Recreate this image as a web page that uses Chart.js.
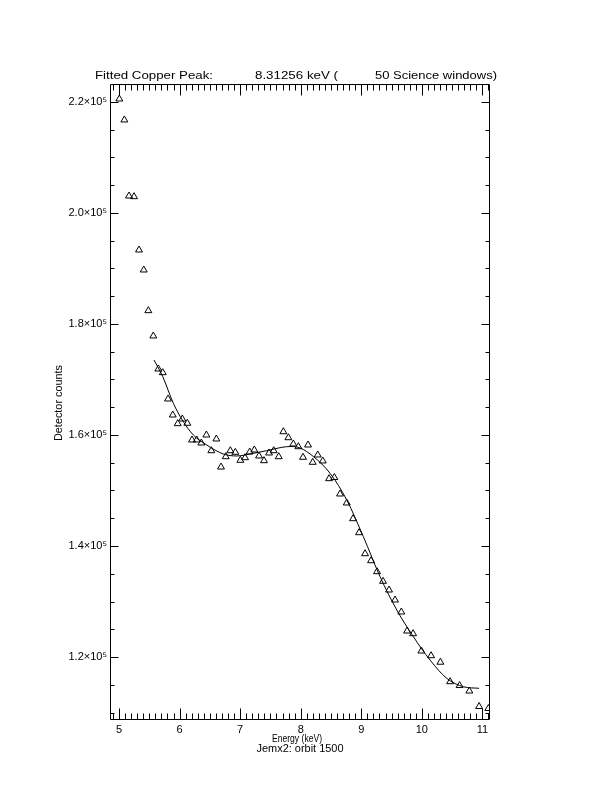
<!DOCTYPE html>
<html>
<head>
<meta charset="utf-8">
<script src="https://cdn.jsdelivr.net/npm/chart.js@4.4.0/dist/chart.umd.min.js"></script>
<style>
  body { margin: 0; background: #fff; }
  canvas { display: block; }
</style>
</head>
<body>
<canvas id="chart" width="612" height="792"></canvas>
<script>
// measured spectrum (keV, counts)
const energy = [5.005, 5.088, 5.165, 5.248, 5.330, 5.408, 5.484, 5.566, 5.649, 5.722,
  5.809, 5.887, 5.969, 6.045, 6.128, 6.205, 6.283, 6.359, 6.442, 6.524,
  6.607, 6.684, 6.762, 6.838, 6.920, 7.003, 7.081, 7.158, 7.234, 7.312,
  7.394, 7.477, 7.554, 7.637, 7.713, 7.796, 7.878, 7.961, 8.038, 8.121,
  8.198, 8.281, 8.364, 8.468, 8.555, 8.649, 8.760, 8.864, 8.963, 9.062,
  9.161, 9.260, 9.359, 9.458, 9.557, 9.661, 9.756, 9.855, 9.992, 10.152,
  10.306, 10.466, 10.623, 10.784, 10.945, 11.098];
const counts = [220540, 216760, 203060, 202940, 193330, 189730, 182400, 177840, 171890, 171230,
  166490, 163600, 162040, 162880, 162110, 159100, 159100, 158560, 160000, 157170,
  159280, 154230, 156090, 157170, 156880, 155440, 155910, 156940, 157300, 156220,
  155370, 156760, 157170, 156090, 160590, 159510, 158380, 157890, 155980, 158200,
  155080, 156400, 155320, 152130, 152340, 149370, 147750, 144920, 142400, 138610,
  137350, 135370, 133640, 132070, 130270, 128110, 124680, 124200, 121080, 120230,
  119060, 115550, 114860, 113870, 111080, 110720];

// fitted curve
const fitEnergy = [5.578, 5.722, 5.897, 6.045, 6.227, 6.448, 6.722, 6.944, 7.218, 7.439,
  7.687, 7.840, 7.989, 8.208, 8.484, 8.760, 9.034, 9.310, 9.586, 9.860,
  10.135, 10.411, 10.685, 10.945];
const fitCounts = [173510, 170510, 165710, 162700, 160000, 158200, 156580, 156220, 156700, 157170,
  157780, 157930, 157660, 156130, 153100, 148290, 141680, 134470, 128470, 123660,
  119460, 116160, 114650, 114360];

const xTicks = [5, 6, 7, 8, 9, 10, 11];
const yTicks = [120000, 140000, 160000, 180000, 200000, 220000];
const yTickLabels = ['1.2×10⁵', '1.4×10⁵', '1.6×10⁵', '1.8×10⁵', '2.0×10⁵', '2.2×10⁵'];

const FONT = '"Liberation Sans", Arial, sans-serif';

// draw text squeezed/stretched to a given width
function fitText(ctx, text, x, y, width) {
  const w = ctx.measureText(text).width;
  ctx.save();
  ctx.translate(x, y);
  ctx.scale(width / w, 1);
  ctx.fillText(text, 0, 0);
  ctx.restore();
}

const idlFrame = {
  id: 'idlFrame',
  afterDatasetsDraw(chart) {
    const { ctx, chartArea: a, scales: { x, y } } = chart;
    const L = a.left + 0.5, R = a.right - 0.5, T = a.top + 0.5, B = a.bottom - 0.5;
    ctx.save();
    ctx.strokeStyle = '#000';
    ctx.lineWidth = 1;
    ctx.beginPath();
    ctx.rect(L, T, R - L, B - T);

    // x ticks, inward on bottom and top
    for (let i = 49; i <= 111; i++) {
      const v = i / 10;
      const len = i % 10 === 0 ? 11 : 6;
      const px = Math.round(x.getPixelForValue(v)) + 0.5;
      ctx.moveTo(px, B); ctx.lineTo(px, B - len);
      ctx.moveTo(px, T); ctx.lineTo(px, T + len);
    }
    // y ticks, inward on left and right
    for (let i = 22; i <= 44; i++) {
      const v = i * 5000;
      const len = i % 4 === 0 ? 8 : 4;
      const py = Math.round(y.getPixelForValue(v)) + 0.5;
      ctx.moveTo(L, py); ctx.lineTo(L + len, py);
      ctx.moveTo(R, py); ctx.lineTo(R - len, py);
    }
    ctx.stroke();

    ctx.fillStyle = '#000';
    ctx.font = '10px ' + FONT;
    ctx.textBaseline = 'alphabetic';
    ctx.textAlign = 'left';
    fitText(ctx, 'Fitted Copper Peak:', 95, 79, 118);
    fitText(ctx, '8.31256 keV (', 255, 79, 83);
    fitText(ctx, '50 Science windows)', 375, 79, 122);

    ctx.textAlign = 'center';
    ctx.textBaseline = 'middle';
    fitText(ctx, 'Energy (keV)', 297, 739.5, 50);
    fitText(ctx, 'Jemx2: orbit 1500', 300, 749.5, 87);

    ctx.translate(59, 403);
    ctx.rotate(-Math.PI / 2);
    fitText(ctx, 'Detector counts', 0, 0, 76);
    ctx.restore();
  }
};

new Chart(document.getElementById('chart'), {
  type: 'scatter',
  data: {
    datasets: [
      {
        label: 'data',
        data: energy.map((e, i) => ({ x: e, y: counts[i] })),
        pointStyle: 'triangle',
        pointRadius: 4,
        pointBorderWidth: 1,
        borderColor: '#000',
        backgroundColor: 'rgba(0,0,0,0)',
        showLine: false,
      },
      {
        label: 'fit',
        data: fitEnergy.map((e, i) => ({ x: e, y: fitCounts[i] })),
        showLine: true,
        pointRadius: 0,
        borderColor: '#000',
        borderWidth: 1,
        cubicInterpolationMode: 'monotone',
      },
    ],
  },
  options: {
    responsive: false,
    animation: false,
    layout: { padding: { top: 84, right: 122, left: 0, bottom: 0 } },
    plugins: { legend: { display: false }, tooltip: { enabled: false } },
    scales: {
      x: {
        type: 'linear',
        min: 4.851,
        max: 11.125,
        afterBuildTicks: (s) => { s.ticks = xTicks.map((v) => ({ value: v })); },
        afterFit: (s) => { s.height = 72; },
        grid: { display: false, drawTicks: false },
        border: { display: false },
        ticks: {
          autoSkip: false,
          maxRotation: 0,
          padding: 3,
          color: '#000',
          font: { family: FONT, size: 11 },
        },
      },
      y: {
        type: 'linear',
        min: 108650,
        max: 223240,
        afterBuildTicks: (s) => { s.ticks = yTicks.map((v) => ({ value: v })); },
        afterFit: (s) => { s.width = 110; },
        grid: { display: false, drawTicks: false },
        border: { display: false },
        ticks: {
          padding: 3,
          color: '#000',
          font: { family: FONT, size: 11 },
          callback: (v, i) => yTickLabels[i],
        },
      },
    },
  },
  plugins: [idlFrame],
});
</script>
</body>
</html>
